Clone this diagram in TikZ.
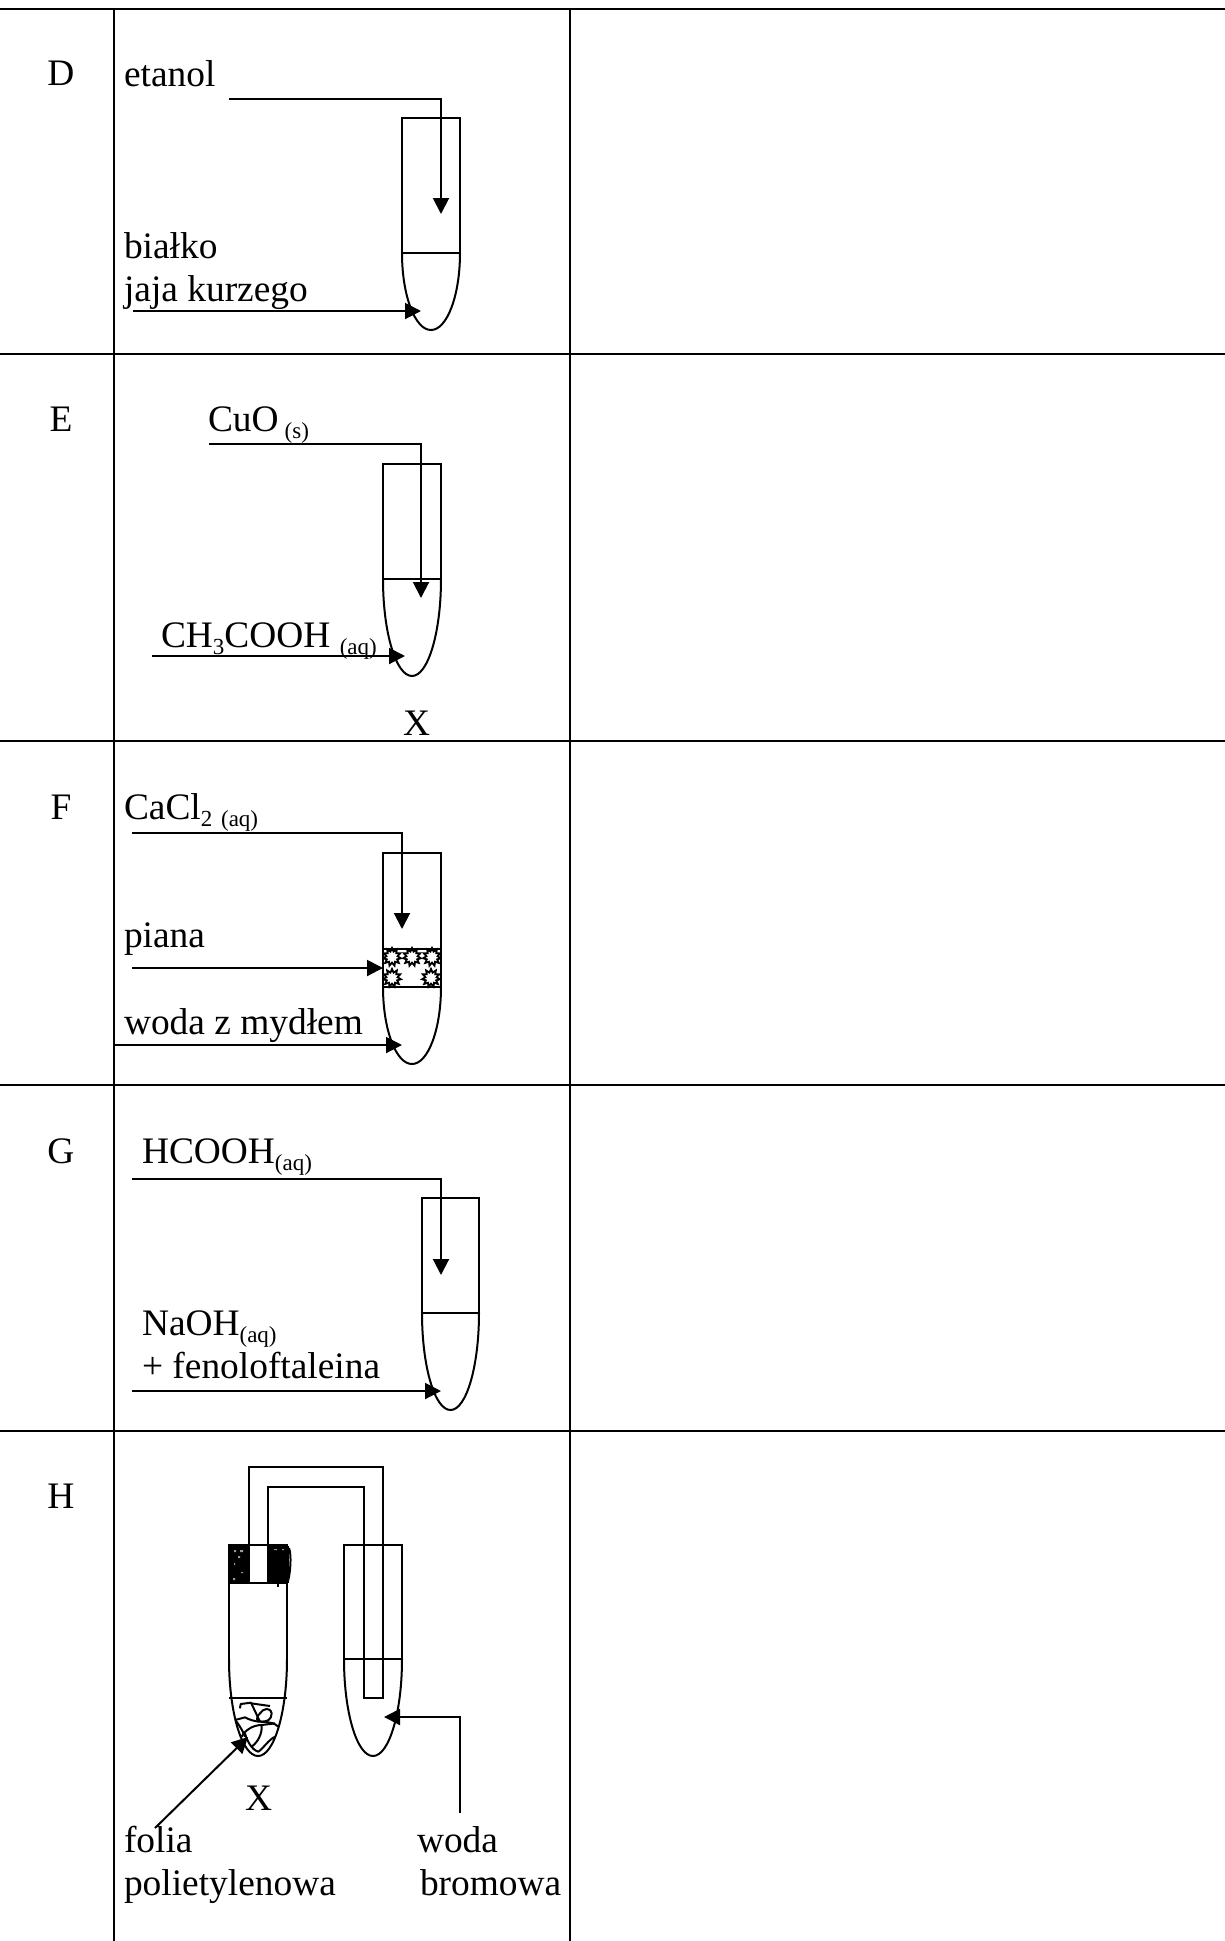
\documentclass[tikz,border=0pt]{standalone}
\usepackage{fontspec}
\setmainfont{Liberation Serif}
\usetikzlibrary{arrows.meta,shapes.geometric}
\newcommand{\sm}{\fontsize{23}{23}\selectfont}
\newcommand{\low}[1]{\raisebox{-7pt}{\sm #1}}
\newcommand{\testtube}[6]{% left right top level curvestart bottom
  \pgfmathsetmacro{\xc}{(#1+#2)/2}
  \pgfmathsetmacro{\kx}{0.5523*(#2-#1)/2}
  \pgfmathsetmacro{\ky}{0.5523*(#6-#5)}
  \draw[glass] (#1,#5) -- (#1,#3) -- (#2,#3) -- (#2,#5);
  \draw[glass] (#1,#4) -- (#2,#4);
  \draw[glass] (#1,#5) .. controls (#1,#5+\ky) and (\xc-\kx,#6) .. (\xc,#6)
     .. controls (\xc+\kx,#6) and (#2,#5+\ky) .. (#2,#5);
}
\tikzset{
  x=1pt,y=-1pt,
  glass/.style={draw=black,line width=2pt},
  rule/.style={draw=black,line width=2.4pt},
  arr/.style={draw=black,line width=2pt,-{Triangle[length=16pt,width=16pt]}},
  txt/.style={anchor=base west,inner sep=0pt,outer sep=0pt,font=\fontsize{37.4}{37.4}\selectfont},
  rowlab/.style={anchor=base,inner sep=0pt,outer sep=0pt,font=\fontsize{37.4}{37.4}\selectfont},
  bubble/.style={star,star points=11,star point ratio=1.6,draw=black,fill=white,line width=1.8pt,minimum size=18pt,inner sep=0pt},
  scrib/.style={draw=black,line width=2pt,line join=round}
}
\begin{document}
\begin{tikzpicture}
\useasboundingbox (0,0) rectangle (1225,1941);
\fill[white] (0,0) rectangle (1225,1941);
% table
\foreach \yy in {9,354,741,1085,1431} \draw[rule] (0,\yy) -- (1225,\yy);
\draw[rule] (114,9) -- (114,1941);
\draw[rule] (570,9) -- (570,1941);
% row labels
\node[rowlab] (lD) at (61,85) {D};
\node[rowlab] (lE) at (61,431) {E};
\node[rowlab] (lF) at (61,819) {F};
\node[rowlab] (lG) at (61,1163) {G};
\node[rowlab] (lH) at (61,1508) {H};
% D
\node[txt] (etanol) at (124,86) {etanol};
\node[txt] (bialko) at (124,258) {białko};
\node[txt] (jaja) at (124,301) {jaja kurzego};
\testtube{402}{460}{118}{253}{253}{330}
\coordinate (d1a) at (229,99); \coordinate (d1b) at (441,214);
\coordinate (d2a) at (133,311); \coordinate (d2b) at (421,311);
\draw[arr] (d1a) -| (d1b);
\draw[arr] (d2a) -- (d2b);
% E
\node[txt] (cuo) at (208,431) {CuO\hspace{6pt}\low{(s)}};
\node[txt] (ch3) at (161,647) {CH\low{3}COOH \low{(aq)}};
\node[txt] (xE) at (403,735) {X};
\testtube{383}{441}{464}{579}{579}{676}
\coordinate (e1a) at (209,444); \coordinate (e1b) at (421,598);
\coordinate (e2a) at (152,656); \coordinate (e2b) at (405,656);
\draw[arr] (e1a) -| (e1b);
\draw[arr] (e2a) -- (e2b);
% F
\node[txt] (cacl) at (124,819) {CaCl\low{2\hspace{3pt} (aq)}};
\node[txt] (piana) at (124,947) {piana};
\node[txt] (woda) at (124,1034) {woda z mydłem};
\foreach \n/\bx/\by in {a/392/957,b/412/957,c/432/957,d/392/978,e/431/978}
  \node[bubble] (f\n) at (\bx,\by) {};
\fill[white] (370,945) rectangle (382,992);
\fill[white] (442,945) rectangle (452,992);
\testtube{383}{441}{853}{949}{987}{1064}
\draw[glass] (383,987) -- (441,987);
\coordinate (f1a) at (132,833); \coordinate (f1b) at (402,929);
\coordinate (f2a) at (132,968); \coordinate (f2b) at (383,968);
\coordinate (f3a) at (114,1045); \coordinate (f3b) at (402,1045);
\draw[arr] (f1a) -| (f1b);
\draw[arr] (f2a) -- (f2b);
\draw[arr] (f3a) -- (f3b);
% G
\node[txt] (hcooh) at (142,1163) {HCOOH\low{(aq)}};
\node[txt] (naoh) at (142,1335) {NaOH\low{(aq)}};
\node[txt] (fenol) at (142,1378) {+ fenoloftaleina};
\testtube{422}{479}{1198}{1313}{1313}{1410}
\coordinate (g1a) at (132,1179); \coordinate (g1b) at (441,1275);
\coordinate (g2a) at (132,1391); \coordinate (g2b) at (441,1391);
\draw[arr] (g1a) -| (g1b);
\draw[arr] (g2a) -- (g2b);
% H
\fill[black] (229,1546) rectangle (248,1583);
\fill[black] (268,1546) rectangle (289,1583);
\fill[white!60!black] (234,1550) rectangle (236,1552) (240,1550) rectangle (243,1552) (238,1556) rectangle (240,1558) (234,1563) rectangle (235,1565) (241,1572) rectangle (243,1573) (233,1578) rectangle (235,1580) (274,1549) rectangle (277,1550) (282,1549) rectangle (284,1550);
\testtube{229}{287}{1545}{1698}{1659}{1756}
\draw[glass] (229,1583) -- (287,1583);
\draw[glass] (249,1583) -- (249,1467) -- (383,1467) -- (383,1698) -- (364,1698) -- (364,1487) -- (268,1487) -- (268,1583);
\draw[glass] (289,1548) .. controls (292,1555) and (290,1575) .. (288,1581);
\draw[glass] (278,1583) -- (278,1587);
\testtube{344}{402}{1545}{1659}{1659}{1756}
\begin{scope}[shift={(225,1680)},x=0.3333pt,y=-0.3333pt]
  \draw[scrib] (45,85) -- (47,72) -- (78,68) -- (105,125);
  \draw[scrib] (78,70) -- (135,78);
  \draw[scrib] (105,100) .. controls (115,85) and (135,80) .. (140,100) .. controls (140,120) and (125,125) .. (110,125) .. controls (95,125) and (90,115) .. (105,100);
  \draw[scrib] (30,120) -- (60,112) .. controls (75,120) and (85,122) .. (100,125) .. controls (125,125) and (150,128) .. (160,140);
  \draw[scrib] (50,170) .. controls (60,150) and (85,135) .. (110,135) -- (150,130);
  \draw[scrib] (110,135) .. controls (112,160) and (100,185) .. (80,200);
  \draw[scrib] (60,160) .. controls (65,180) and (80,210) .. (100,215) .. controls (115,205) and (130,180) .. (150,170);
  \draw[scrib] (35,125) .. controls (45,140) and (55,155) .. (60,170);
\end{scope}
\coordinate (h1a) at (155,1828); \coordinate (h1b) at (248,1737);
\coordinate (h2a) at (460,1813); \coordinate (h2b) at (384,1717);
\draw[arr] (h1a) -- (h1b);
\draw[arr] (h2a) |- (h2b);
\node[txt] (xH) at (245,1810) {X};
\node[txt] (folia) at (124,1852) {folia};
\node[txt] (poli) at (124,1895) {polietylenowa};
\node[txt] (woda2) at (417,1852) {woda};
\node[txt] (brom) at (420,1895) {bromowa};
\end{tikzpicture}
\end{document}
